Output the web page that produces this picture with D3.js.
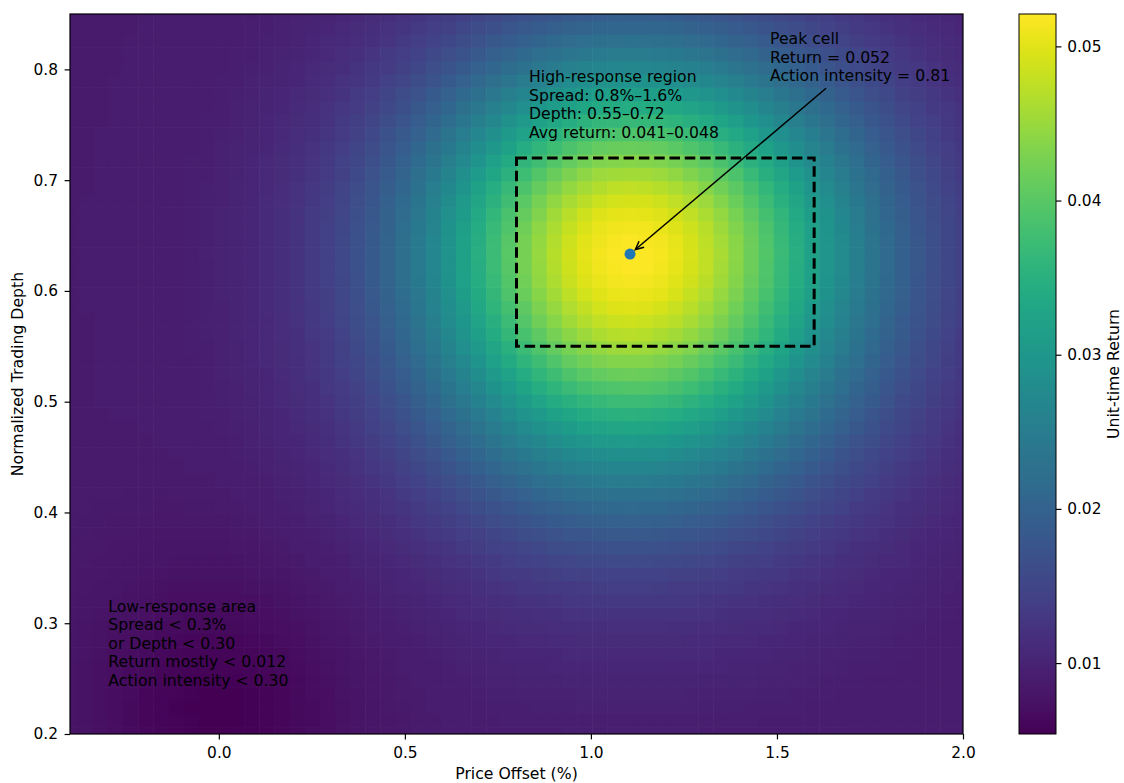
<!DOCTYPE html>
<html>
<head>
<meta charset="utf-8">
<script src="https://cdn.jsdelivr.net/npm/d3@7"></script>
<style>
  body { margin: 0; background: #fff; }
  svg { display: block; font-family: "DejaVu Sans", sans-serif; }
</style>
</head>
<body>
<script>
// cell centres of the grid (price offset %, normalized depth)
const xCenters = [-0.4, -0.3593, -0.3186, -0.278, -0.2373, -0.1966, -0.1559, -0.1153, -0.0746, -0.0339,
  0.0068, 0.0475, 0.0881, 0.1288, 0.1695, 0.2102, 0.2508, 0.2915, 0.3322, 0.3729,
  0.4136, 0.4542, 0.4949, 0.5356, 0.5763, 0.6169, 0.6576, 0.6983, 0.739, 0.7797,
  0.8203, 0.861, 0.9017, 0.9424, 0.9831, 1.0237, 1.0644, 1.1051, 1.1458, 1.1864,
  1.2271, 1.2678, 1.3085, 1.3492, 1.3898, 1.4305, 1.4712, 1.5119, 1.5525, 1.5932,
  1.6339, 1.6746, 1.7153, 1.7559, 1.7966, 1.8373, 1.878, 1.9186, 1.9593, 2.0];
const yCenters = [0.2, 0.212, 0.2241, 0.2361, 0.2481, 0.2602, 0.2722, 0.2843, 0.2963, 0.3083,
  0.3204, 0.3324, 0.3444, 0.3565, 0.3685, 0.3806, 0.3926, 0.4046, 0.4167, 0.4287,
  0.4407, 0.4528, 0.4648, 0.4769, 0.4889, 0.5009, 0.513, 0.525, 0.537, 0.5491,
  0.5611, 0.5731, 0.5852, 0.5972, 0.6093, 0.6213, 0.6333, 0.6454, 0.6574, 0.6694,
  0.6815, 0.6935, 0.7056, 0.7176, 0.7296, 0.7417, 0.7537, 0.7657, 0.7778, 0.7898,
  0.8019, 0.8139, 0.8259, 0.838, 0.85];

// unit-time return per cell, one row per depth (bottom -> top), in units of 1e-4
const returnRows = [
[79,76,73,70,67,64,61,58,56,55,55,56,57,59,62,65,69,72,75,78,81,83,85,87,88,89,90,90,91,92,92,92,92,93,93,93,93,93,93,93,93,93,92,92,92,92,92,91,91,91,90,90,90,90,89,89,89,89,89,89],
[79,76,73,70,66,63,60,58,56,55,54,55,56,59,62,65,68,72,75,78,81,83,85,87,88,89,90,91,92,93,93,93,94,94,94,94,94,94,94,94,94,94,94,93,93,93,92,92,92,91,91,91,90,90,90,90,89,89,89,89],
[78,76,73,70,66,63,60,57,55,54,54,55,56,59,62,65,68,72,75,78,81,84,86,88,89,90,91,92,93,94,94,95,95,95,96,96,96,96,96,96,96,96,95,95,95,94,94,93,93,92,92,91,91,91,90,90,90,89,89,89],
[79,76,73,70,67,63,60,58,56,55,55,55,57,59,62,65,69,72,76,79,82,84,87,88,90,91,92,93,95,95,96,96,97,97,98,98,98,98,98,98,98,97,97,97,96,96,95,95,94,93,93,92,92,91,91,91,90,90,90,89],
[79,76,74,70,67,64,61,59,57,56,56,56,58,60,63,66,70,73,77,80,83,85,87,89,91,93,94,95,96,97,98,99,99,100,100,100,101,101,101,100,100,100,99,99,98,98,97,96,96,95,94,93,93,92,92,91,91,90,90,90],
[79,77,74,71,68,65,63,60,59,58,58,58,60,62,65,68,71,75,78,81,84,86,89,91,92,94,96,97,98,99,100,101,102,103,103,103,104,104,104,104,103,103,102,102,101,100,99,98,97,97,96,95,94,93,93,92,91,91,90,90],
[80,78,75,72,70,67,64,62,61,60,60,60,62,64,66,69,73,76,79,82,85,88,90,92,94,96,98,99,101,102,103,104,105,106,107,107,107,107,107,107,107,106,106,105,104,103,102,101,100,99,97,96,95,95,94,93,92,92,91,90],
[81,79,76,74,71,69,66,64,63,62,62,63,64,66,69,71,75,78,81,84,87,89,92,94,96,98,100,102,104,105,107,108,109,110,111,111,112,112,112,111,111,110,109,108,107,106,105,104,102,101,100,98,97,96,95,94,93,92,92,91],
[81,79,77,75,73,71,68,67,65,65,65,65,67,69,71,74,77,80,83,86,89,91,94,96,98,101,103,105,107,109,111,112,114,115,116,116,117,117,117,117,116,115,114,113,112,110,109,107,105,104,102,101,99,98,96,95,94,93,92,92],
[82,80,79,77,75,73,71,69,68,68,68,68,70,71,74,76,79,82,85,88,91,93,96,99,101,104,106,109,111,113,115,117,119,120,122,122,123,123,123,123,122,121,120,118,116,115,113,111,109,107,105,103,101,100,98,97,96,94,93,92],
[83,81,80,78,76,75,73,72,71,71,71,71,72,74,76,79,81,84,87,90,93,96,99,101,104,107,110,113,116,118,121,123,125,127,128,129,130,130,130,129,129,127,126,124,122,120,118,115,113,111,108,106,104,102,100,99,97,96,94,93],
[84,82,81,80,78,77,75,74,74,73,73,74,75,77,79,81,84,86,89,92,95,98,102,105,108,111,114,118,121,124,127,130,132,134,136,137,138,138,138,137,136,135,133,131,129,126,124,121,118,115,112,110,107,105,103,101,99,97,96,94],
[84,83,82,81,80,79,78,77,76,76,76,77,78,80,81,84,86,89,92,95,98,101,105,108,112,116,119,123,127,131,134,137,140,143,145,146,147,147,147,146,145,144,141,139,136,133,130,127,123,120,117,114,111,108,105,103,101,99,97,96],
[85,84,83,82,81,80,80,79,78,78,79,79,81,82,84,86,89,91,94,98,101,105,108,112,116,121,125,130,134,138,142,146,149,152,155,157,158,158,158,157,155,153,151,148,145,141,138,134,130,126,122,118,115,111,108,106,103,101,99,97],
[86,85,84,83,83,82,81,81,81,81,81,82,83,85,86,89,91,94,97,100,104,108,112,117,121,126,131,137,142,147,151,156,160,163,166,168,169,170,169,168,167,164,161,158,154,150,146,141,137,132,128,123,119,115,112,108,105,103,100,98],
[86,86,85,84,84,83,83,83,83,83,83,84,85,87,89,91,93,96,100,103,107,112,117,122,127,133,138,144,150,156,162,167,171,175,178,181,182,183,182,181,179,176,173,169,165,160,155,150,144,139,134,129,124,120,116,112,108,105,102,100],
[87,86,86,85,85,85,84,84,84,84,85,86,87,89,91,93,96,99,103,107,111,116,121,127,133,140,146,153,160,166,173,179,184,188,192,195,197,197,197,195,193,190,186,182,176,171,165,159,153,147,141,135,130,125,120,115,111,108,105,102],
[87,87,86,86,86,86,85,85,86,86,87,88,89,91,93,95,98,102,106,110,115,120,126,133,140,147,155,162,170,178,185,192,198,203,207,210,212,213,212,211,208,205,200,195,189,183,176,169,162,155,149,142,136,130,124,119,115,111,107,104],
[87,87,87,87,86,86,86,87,87,87,88,89,91,92,95,97,101,104,109,114,119,125,132,139,147,155,164,173,181,190,198,206,213,219,223,227,229,230,229,227,225,220,215,210,203,196,188,180,173,165,157,149,142,135,129,124,118,114,110,106],
[87,87,87,87,87,87,87,87,88,88,89,91,92,94,97,99,103,107,112,117,123,130,138,146,155,164,174,183,193,203,212,221,229,235,241,245,247,248,247,245,242,237,232,225,218,210,201,192,183,174,166,157,149,142,135,128,122,117,112,108],
[88,88,88,88,88,88,88,88,89,89,90,92,93,96,98,101,105,110,115,121,128,135,144,153,163,173,184,195,206,217,227,237,246,253,259,264,266,267,266,264,260,255,249,242,233,224,215,205,195,185,175,166,157,148,140,133,126,120,115,111],
[88,88,88,88,88,88,88,89,89,90,91,93,95,97,100,103,108,113,118,125,132,141,150,160,171,183,195,207,219,231,243,254,263,272,278,283,286,287,286,284,280,274,267,259,250,240,229,218,207,196,185,174,164,155,146,138,131,124,118,113],
[88,88,88,88,88,88,89,89,90,91,92,94,96,98,102,105,110,115,122,129,137,147,157,168,180,193,206,219,233,246,259,271,282,291,298,304,307,308,307,305,300,294,286,277,267,256,244,232,219,207,195,183,172,162,152,143,135,128,121,116],
[88,88,88,88,88,89,89,90,91,92,93,95,97,100,103,107,112,118,125,133,142,152,164,176,189,203,217,232,247,262,276,289,301,311,319,325,329,330,329,326,321,314,305,295,284,272,259,246,232,219,206,193,180,169,158,149,140,132,125,119],
[88,88,88,89,89,89,90,91,91,93,94,96,98,101,105,110,115,121,129,137,147,158,170,184,198,213,229,245,261,277,293,307,320,331,340,346,350,352,351,347,342,334,325,314,302,289,275,260,245,231,216,202,189,176,165,154,144,136,128,121],
[88,88,89,89,89,89,90,91,92,93,95,97,99,103,107,111,117,124,132,141,152,164,177,192,207,224,241,258,276,293,310,325,339,351,360,367,372,373,372,368,363,354,344,333,319,305,290,274,258,242,227,212,197,184,171,159,149,140,131,124],
[88,88,89,89,89,90,90,91,92,93,95,97,100,104,108,113,119,127,135,145,157,170,184,199,216,234,252,271,290,308,326,343,358,370,381,389,393,395,394,390,383,375,364,351,337,321,305,288,271,254,237,221,205,191,177,165,154,144,135,127],
[88,88,89,89,89,90,90,91,92,94,96,98,101,105,109,115,122,129,139,149,162,175,190,207,225,244,263,283,304,323,342,360,376,390,401,409,414,416,414,410,403,394,382,369,354,337,320,302,283,265,247,230,213,198,183,170,158,147,138,129],
[88,88,89,89,89,90,90,91,92,94,96,99,102,106,111,116,124,132,142,153,166,180,197,214,233,253,274,295,317,337,358,376,393,408,420,428,434,435,434,429,422,412,400,386,370,352,334,315,295,276,257,238,221,204,189,175,162,151,141,132],
[88,88,89,89,89,90,91,91,93,94,96,99,102,107,112,118,125,134,145,157,170,185,202,221,241,262,284,306,329,351,372,392,409,425,437,446,452,454,452,448,440,430,417,402,385,366,347,327,306,286,266,246,228,210,194,180,166,154,144,134],
[88,88,89,89,89,90,91,92,93,95,97,100,103,107,113,119,127,136,147,160,174,190,208,227,248,270,293,316,340,363,385,406,424,440,453,463,469,471,469,464,456,445,432,416,398,379,359,338,316,295,274,254,234,216,199,184,170,157,146,136],
[88,88,89,89,89,90,91,92,93,95,97,100,104,108,114,120,129,138,149,162,177,194,212,232,254,277,300,325,349,373,396,418,437,454,467,477,483,485,483,478,470,459,445,429,410,390,369,347,325,303,281,260,240,221,203,187,173,160,148,138],
[88,89,89,89,89,90,91,92,93,95,97,100,104,109,115,122,130,140,151,165,180,197,216,237,259,283,307,332,358,382,406,428,448,465,479,489,496,498,496,491,482,471,456,439,420,400,378,355,332,309,287,265,245,225,207,191,176,162,150,140],
[88,89,89,89,90,90,91,92,93,95,98,101,105,109,115,122,131,141,153,167,182,200,219,240,263,287,313,338,364,390,414,437,457,475,489,499,506,508,506,501,492,480,465,448,429,407,385,362,338,315,292,270,249,229,210,193,178,164,152,141],
[88,89,89,89,90,90,91,92,94,95,98,101,105,110,116,123,132,142,154,168,184,202,222,243,266,291,317,343,369,395,420,443,463,481,496,506,513,515,513,508,499,487,472,454,434,413,390,367,343,319,295,273,251,231,212,195,179,165,153,142],
[88,89,89,89,90,90,91,92,94,95,98,101,105,110,116,123,132,143,155,169,185,203,223,245,268,293,319,345,372,398,423,446,467,485,500,511,517,520,518,512,503,491,476,458,438,416,393,369,345,321,298,275,253,233,214,196,180,166,154,143],
[88,89,89,89,90,90,91,92,94,96,98,101,105,110,116,123,132,143,155,169,185,203,223,245,269,294,320,346,373,399,424,447,469,487,501,512,519,521,519,514,505,492,477,459,439,417,394,370,346,322,298,275,254,233,214,196,181,166,154,143],
[88,89,89,89,90,90,91,92,94,95,98,101,105,110,116,123,132,142,155,169,185,203,223,244,268,293,319,345,372,398,423,446,467,485,500,510,517,519,517,512,503,491,475,458,438,416,393,369,345,321,297,275,253,232,213,196,180,166,154,143],
[88,89,89,89,90,90,91,92,93,95,98,101,105,110,116,123,131,142,154,168,183,201,221,242,265,290,316,342,368,393,418,441,462,480,494,505,511,513,512,506,497,485,470,453,433,412,389,365,341,318,295,272,251,230,212,194,179,165,153,142],
[88,89,89,89,89,90,91,92,93,95,98,101,104,109,115,122,131,141,152,166,181,199,218,239,262,286,311,336,362,387,411,433,454,471,485,496,502,504,502,497,488,477,462,445,426,405,382,359,336,313,290,268,247,227,209,192,177,163,151,141],
[88,89,89,89,89,90,91,92,93,95,97,100,104,109,114,121,129,139,150,164,179,195,214,234,256,280,304,329,353,378,401,423,443,459,473,483,489,491,490,485,476,465,451,434,415,395,373,351,329,306,284,263,242,223,205,189,174,161,149,139],
[88,88,89,89,89,90,91,92,93,95,97,100,103,108,113,120,128,137,148,161,175,191,209,229,250,272,295,319,343,366,389,410,429,445,458,468,474,476,474,469,461,450,436,420,403,383,362,341,319,298,276,256,236,218,201,185,171,158,147,137],
[88,88,89,89,89,90,91,92,93,94,97,99,103,107,112,118,126,135,145,157,171,186,203,222,242,263,286,308,331,353,375,395,413,428,441,450,455,457,456,451,443,433,420,405,388,369,349,329,308,288,267,248,229,212,195,180,167,155,144,135],
[88,88,89,89,89,90,90,91,93,94,96,99,102,106,111,117,124,132,142,153,166,181,197,215,234,254,274,296,317,338,359,377,394,409,421,430,435,437,435,431,424,414,401,387,371,353,335,315,296,276,257,239,221,205,189,175,163,151,141,132],
[88,88,89,89,89,90,90,91,92,94,96,98,101,105,109,115,121,129,138,149,161,175,190,206,224,243,263,283,303,322,341,359,375,388,399,408,413,414,413,409,402,393,381,368,353,336,319,301,282,264,247,229,213,197,183,170,158,147,138,129],
[88,88,89,89,89,90,90,91,92,93,95,97,100,103,108,113,119,126,135,145,156,169,183,198,214,232,250,268,287,305,323,339,354,367,377,384,389,391,389,386,379,371,360,347,334,318,302,285,268,252,235,219,204,189,176,164,153,143,134,126],
[88,88,88,89,89,89,90,91,92,93,94,96,99,102,106,111,116,123,131,140,150,162,175,189,204,220,237,254,271,288,304,319,333,344,354,361,365,366,365,362,356,348,338,327,314,300,285,270,254,238,223,208,194,181,169,158,147,138,130,123],
[88,88,88,89,89,89,90,90,91,92,94,96,98,101,104,109,114,120,127,135,145,155,167,180,194,208,224,239,255,270,285,299,311,321,330,336,340,342,340,337,332,325,316,305,294,281,267,253,239,225,211,198,185,173,162,152,142,134,127,120],
[88,88,88,89,89,89,90,90,91,92,93,95,97,100,103,107,111,117,123,131,139,149,160,171,184,197,211,225,239,253,266,278,289,299,307,312,316,317,316,313,308,302,294,284,274,262,250,237,225,212,199,187,176,165,155,145,137,129,123,117],
[88,88,88,89,89,89,89,90,91,92,93,94,96,98,101,105,109,114,120,126,134,143,152,162,174,185,198,210,223,235,247,258,268,277,284,289,292,293,292,290,285,280,272,264,254,244,233,222,210,199,188,177,166,157,148,139,132,125,119,114],
[88,88,88,88,89,89,89,90,90,91,92,94,95,97,100,103,107,111,116,122,129,136,145,154,164,174,185,197,208,219,229,239,248,256,262,266,269,270,269,267,263,258,252,244,236,226,217,207,197,186,176,167,158,149,141,134,127,121,116,111],
[88,88,88,88,89,89,89,90,90,91,92,93,94,96,98,101,104,108,113,118,124,131,138,146,155,164,174,183,193,203,212,221,229,235,241,245,247,248,247,245,242,238,232,225,218,210,201,192,183,175,166,157,149,142,135,128,122,117,112,108],
[88,88,88,88,89,89,89,89,90,90,91,92,94,95,97,99,102,106,110,114,119,125,132,139,146,154,163,171,180,188,196,204,211,217,221,225,227,228,227,225,222,218,213,208,201,194,187,179,171,163,156,148,141,135,129,123,118,113,109,106],
[88,88,88,88,88,89,89,89,90,90,91,92,93,94,96,98,100,103,107,111,115,120,126,132,138,145,153,160,167,175,182,188,194,199,203,206,208,209,208,207,204,201,196,191,186,180,173,167,160,153,147,140,134,128,123,118,114,110,106,103],
[88,88,88,88,88,89,89,89,89,90,90,91,92,93,95,96,99,101,104,107,111,116,120,126,131,137,143,150,156,162,168,174,179,183,187,189,191,191,191,190,188,185,181,177,172,167,161,155,150,144,138,133,128,123,118,114,110,107,104,101]
];

const xTicks = [0.0, 0.5, 1.0, 1.5, 2.0];
const yTicks = [0.2, 0.3, 0.4, 0.5, 0.6, 0.7, 0.8];
const cbarTicks = [0.01, 0.02, 0.03, 0.04, 0.05];

const regionX = [0.8, 1.6];
const regionY = [0.55, 0.72];
const peakLines = ["Peak cell", "Return = 0.052", "Action intensity = 0.81"];
const highLines = ["High-response region", "Spread: 0.8%\u20131.6%", "Depth: 0.55\u20130.72", "Avg return: 0.041\u20130.048"];
const lowLines = ["Low-response area", "Spread < 0.3%", "or Depth < 0.30", "Return mostly < 0.012", "Action intensity < 0.30"];

const W = 1124, H = 783;
const plot = { left: 70, right: 963, top: 14, bottom: 734 };
const cbar = { left: 1019, right: 1056 };
const fs = 15.4, lineH = 18.5;

const svg = d3.select("body").append("svg")
  .attr("width", W).attr("height", H);

const x = d3.scaleLinear().domain([-0.4, 2.0]).range([plot.left, plot.right]);
const y = d3.scaleLinear().domain([0.2, 0.85]).range([plot.bottom, plot.top]);

const cells = [];
returnRows.forEach((row, j) => row.forEach((v, i) => cells.push({ i, j, value: v / 1e4 })));
const extent = d3.extent(cells, d => d.value);
const color = d3.scaleSequential(d3.interpolateViridis).domain(extent);

// cell edges halfway between neighbouring centres
function edges(c) {
  return c.map((v, k) => {
    const prev = k > 0 ? c[k - 1] : 2 * v - c[k + 1];
    const next = k < c.length - 1 ? c[k + 1] : 2 * v - c[k - 1];
    return [(prev + v) / 2, (v + next) / 2];
  });
}
const xEdges = edges(xCenters), yEdges = edges(yCenters);

svg.append("clipPath").attr("id", "plotclip").append("rect")
  .attr("x", plot.left).attr("y", plot.top)
  .attr("width", plot.right - plot.left).attr("height", plot.bottom - plot.top);

svg.append("g").attr("clip-path", "url(#plotclip)")
  .selectAll("rect").data(cells).join("rect")
  .attr("x", d => x(xEdges[d.i][0]))
  .attr("y", d => y(yEdges[d.j][1]))
  .attr("width", d => x(xEdges[d.i][1]) - x(xEdges[d.i][0]) + 0.6)
  .attr("height", d => y(yEdges[d.j][0]) - y(yEdges[d.j][1]) + 0.6)
  .attr("fill", d => color(d.value));

// axes
function styleAxis(g) {
  g.select(".domain").remove();
  g.selectAll(".tick line").attr("stroke", "#000").attr("stroke-width", 1.2);
  g.selectAll(".tick text").attr("fill", "#000").attr("font-size", fs)
    .attr("font-family", "DejaVu Sans, sans-serif");
}

svg.append("g").attr("transform", `translate(0,${plot.bottom})`)
  .call(d3.axisBottom(x).tickValues(xTicks).tickFormat(d3.format(".1f")).tickSize(5.4).tickPadding(7.5))
  .call(styleAxis);

svg.append("g").attr("transform", `translate(${plot.left},0)`)
  .call(d3.axisLeft(y).tickValues(yTicks).tickFormat(d3.format(".1f")).tickSize(5.4).tickPadding(6.6))
  .call(styleAxis);

svg.append("rect")
  .attr("x", plot.left).attr("y", plot.top)
  .attr("width", plot.right - plot.left).attr("height", plot.bottom - plot.top)
  .attr("fill", "none").attr("stroke", "#000").attr("stroke-width", 1.2);

svg.append("text")
  .attr("x", (plot.left + plot.right) / 2).attr("y", 779)
  .attr("text-anchor", "middle").attr("font-size", fs + 0.3)
  .text("Price Offset (%)");

svg.append("text")
  .attr("transform", `translate(23,${(plot.top + plot.bottom) / 2}) rotate(-90)`)
  .attr("text-anchor", "middle").attr("font-size", fs + 0.3)
  .text("Normalized Trading Depth");

// high-response region box
svg.append("rect")
  .attr("x", x(regionX[0])).attr("y", y(regionY[1]))
  .attr("width", x(regionX[1]) - x(regionX[0]))
  .attr("height", y(regionY[0]) - y(regionY[1]))
  .attr("fill", "none").attr("stroke", "#000")
  .attr("stroke-width", 3).attr("stroke-dasharray", "10.5,4.8");

// peak cell marker at the grid maximum
const peak = cells.reduce((a, b) => (b.value > a.value ? b : a));
const px = x(xCenters[peak.i]), py = y(yCenters[peak.j]);
svg.append("circle").attr("cx", px).attr("cy", py).attr("r", 5.5).attr("fill", "#1f77b4");

// arrow from label to peak
const sx = x(1.632), sy = y(0.783);
const ang = Math.atan2(py - sy, px - sx);
const ex = px - 7 * Math.cos(ang), ey = py - 7 * Math.sin(ang);
svg.append("line")
  .attr("x1", sx).attr("y1", sy).attr("x2", ex).attr("y2", ey)
  .attr("stroke", "#000").attr("stroke-width", 1.5);
const hl = 9, hw = 0.45;
svg.append("path")
  .attr("d", `M${ex - hl * Math.cos(ang - hw)},${ey - hl * Math.sin(ang - hw)}L${ex},${ey}L${ex - hl * Math.cos(ang + hw)},${ey - hl * Math.sin(ang + hw)}`)
  .attr("fill", "none").attr("stroke", "#000").attr("stroke-width", 1.5);

// annotation blocks
function block(lines, xd, yd) {
  const t = svg.append("text").attr("font-size", fs + 0.3).attr("fill", "#000");
  lines.forEach((s, k) => {
    t.append("tspan").attr("x", x(xd)).attr("y", y(yd) + k * lineH).text(s);
  });
}
block(peakLines, 1.4813, 0.8227);
block(highLines, 0.8336, 0.7882);
block(lowLines, -0.297, 0.3104);

// colorbar
const cy = d3.scaleLinear().domain(extent).range([plot.bottom, plot.top]);
const grad = svg.append("defs").append("linearGradient")
  .attr("id", "cbgrad").attr("x1", 0).attr("y1", 1).attr("x2", 0).attr("y2", 0);
d3.range(0, 1.0001, 0.02).forEach(t => {
  grad.append("stop").attr("offset", t).attr("stop-color", d3.interpolateViridis(t));
});
svg.append("rect")
  .attr("x", cbar.left).attr("y", plot.top)
  .attr("width", cbar.right - cbar.left).attr("height", plot.bottom - plot.top)
  .attr("fill", "url(#cbgrad)").attr("stroke", "#000").attr("stroke-width", 1.0);

svg.append("g").attr("transform", `translate(${cbar.right},0)`)
  .call(d3.axisRight(cy).tickValues(cbarTicks).tickFormat(d3.format(".2f")).tickSize(5.4).tickPadding(5.8))
  .call(styleAxis);

svg.append("text")
  .attr("transform", `translate(1119,${(plot.top + plot.bottom) / 2}) rotate(-90)`)
  .attr("text-anchor", "middle").attr("font-size", fs + 0.3)
  .text("Unit-time Return");
</script>
</body>
</html>
